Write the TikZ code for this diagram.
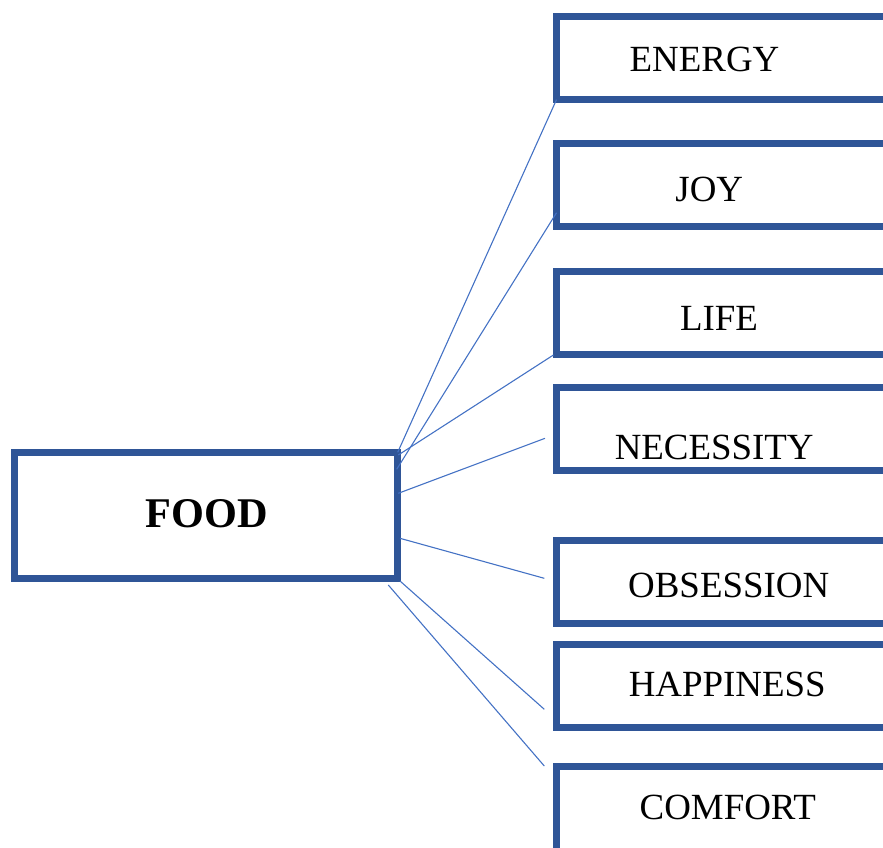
\documentclass[tikz,border=0pt]{standalone}
\usepackage{fontspec}
\setmainfont{Liberation Serif}
\usetikzlibrary{calc}
\definecolor{boxblue}{HTML}{2F5597}
\definecolor{linkblue}{HTML}{4472C4}
\begin{document}
\begin{tikzpicture}[x=1pt,y=-1pt,
  box/.style={draw=boxblue,line width=7pt,fill=white,rectangle,outer sep=0pt,inner sep=0pt},
  rightbox/.style={box,minimum width=343.5pt,minimum height=83.3pt},
  word/.style={anchor=base,inner sep=0pt,font=\fontsize{36.9}{40}\selectfont},
  link/.style={draw=linkblue,line width=1.1pt}]
\useasboundingbox (0,0) rectangle (883,847);
\clip (0,0) rectangle (883,847);

% central box
\node[box,minimum width=383.7pt,minimum height=126.4pt] (food) at (205.85,515.5) {};
\node[anchor=base,inner sep=0pt,font=\fontsize{42.3}{46}\selectfont\bfseries] (tFood) at (206.8,527.3) {FOOD};

% associated words, boxes run off the right edge
\node[rightbox] (energy) at (728.25,58) {};
\node[rightbox] (joy)    at (728.25,184.7) {};
\node[rightbox] (life)   at (728.25,313.3) {};
\node[rightbox,minimum height=83pt] (nec) at (728.25,428.5) {};
\node[rightbox] (obs)    at (728.25,582) {};
\node[rightbox] (hap)    at (728.25,686) {};
\node[rightbox,minimum height=90pt] (com) at (728.25,811.3) {};

\node[word] (tEnergy) at (704.5,71.5)  {ENERGY};
\node[word] (tJoy)    at (709.3,201)   {JOY};
\node[word] (tLife)   at (719,330)     {LIFE};
\node[word] (tNec)    at (714.2,459.3) {NECESSITY};
\node[word] (tObs)    at (728.7,597.3) {OBSESSION};
\node[word] (tHap)    at (727.2,696.7) {HAPPINESS};
\node[word] (tCom)    at (727.8,819.3) {COMFORT};

% connectors
\draw[link] (energy.south west) -- (food.north east);
\draw[link] ($(joy.south west)+(0,-13.6)$) -- ($(food.north east)+(-1,17)$);
\draw[link] ($(life.south west)+(-3,0)$) -- ($(food.north east)+(0.6,2.7)$);
\draw[link] ($(nec.west)+(-11.5,9.8)$) -- ($(food.east)+(0.6,-22.2)$);
\draw[link] ($(food.east)+(2.3,22.8)$) -- ($(obs.west)+(-12.2,-3.7)$);
\draw[link] ($(food.south east)+(2.3,2.3)$) -- ($(hap.west)+(-12.2,23.3)$);
\draw[link] ($(food.south east)+(-9.4,6.3)$) -- ($(com.north west)+(-12.2,-0.3)$);
\end{tikzpicture}
\end{document}
